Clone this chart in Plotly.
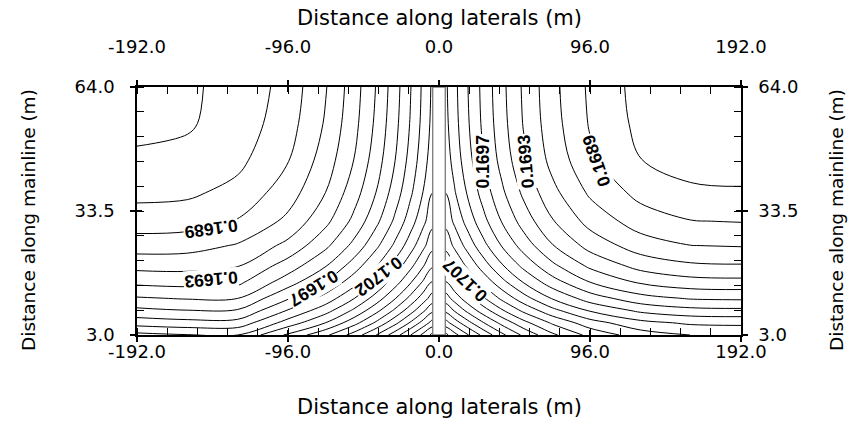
import plotly.graph_objects as go

# ---------------- data ----------------
# distance along laterals (m) and along mainline (m) of the grid nodes
x_nodes = [-192, -160, -128, -96, -72, -54, -40, -28, -18, -10, -4,
           4, 10, 18, 28, 40, 54, 72, 96, 128, 160, 192]
y_nodes = [3, 6, 9, 12, 16, 20, 25, 31, 38, 46, 55, 64]

# pressure head (m) at the grid nodes, one list per mainline position
head_y03 = [0.170095, 0.170058, 0.17005, 0.170379, 0.170619, 0.170865, 0.171099, 0.171331, 0.17155, 0.171742, 0.171895,
            0.171895, 0.17175, 0.171567, 0.171360, 0.171138, 0.170916, 0.170683, 0.170455, 0.170274, 0.170199, 0.170185]
head_y06 = [0.169834, 0.169801, 0.169804, 0.170115, 0.170352, 0.170593, 0.170824, 0.171054, 0.17127, 0.171459, 0.17161,
            0.17161, 0.171474, 0.171304, 0.171111, 0.170904, 0.170695, 0.170478, 0.170265, 0.170095, 0.170025, 0.170013]
head_y09 = [0.169639, 0.169606, 0.169615, 0.169912, 0.170143, 0.170379, 0.170604, 0.170829, 0.171039, 0.171223, 0.17137,
            0.17137, 0.171235, 0.171067, 0.170875, 0.17067, 0.170464, 0.170248, 0.170037, 0.169869, 0.1698, 0.169788]
head_y12 = [0.169467, 0.16944, 0.16945, 0.169737, 0.169963, 0.170197, 0.170419, 0.170641, 0.170848, 0.17103, 0.171175,
            0.171175, 0.171039, 0.170869, 0.170674, 0.170467, 0.17026, 0.170041, 0.169828, 0.169659, 0.169588, 0.169576]
head_y16 = [0.169263, 0.169245, 0.169263, 0.169531, 0.169758, 0.16999, 0.170212, 0.170433, 0.170638, 0.17082, 0.170965,
            0.170965, 0.170827, 0.170655, 0.170458, 0.170248, 0.170038, 0.169816, 0.1696, 0.169429, 0.169357, 0.169345]
head_y20 = [0.169104, 0.169102, 0.169143, 0.169369, 0.169593, 0.169822, 0.170041, 0.170259, 0.170463, 0.170641, 0.170785,
            0.170785, 0.170647, 0.170475, 0.170278, 0.170068, 0.169858, 0.169636, 0.16942, 0.169249, 0.169177, 0.169165]
head_y25 = [0.168927, 0.168939, 0.169014, 0.169191, 0.169416, 0.169644, 0.169863, 0.17008, 0.170284, 0.170463, 0.170605,
            0.170605, 0.170467, 0.170296, 0.1701, 0.16989, 0.16968, 0.169459, 0.169245, 0.169074, 0.169002, 0.16899]
head_y31 = [0.168771, 0.168784, 0.168858, 0.169036, 0.169261, 0.16949, 0.16971, 0.169929, 0.170133, 0.170311, 0.170455,
            0.170455, 0.170317, 0.170146, 0.169951, 0.169741, 0.169531, 0.169312, 0.169096, 0.168927, 0.168855, 0.168843]
head_y38 = [0.16866, 0.168673, 0.168747, 0.168927, 0.169152, 0.169383, 0.169602, 0.169821, 0.170026, 0.170206, 0.17035,
            0.17035, 0.170211, 0.170038, 0.16984, 0.169629, 0.169416, 0.169194, 0.168976, 0.168804, 0.168732, 0.16872]
head_y46 = [0.168573, 0.168586, 0.168661, 0.168843, 0.169071, 0.169303, 0.169525, 0.169747, 0.169956, 0.170137, 0.170283,
            0.170283, 0.17014, 0.169963, 0.169762, 0.169546, 0.169329, 0.169102, 0.16888, 0.168703, 0.16863, 0.168618]
head_y55 = [0.168513, 0.168535, 0.16861, 0.168786, 0.169017, 0.169254, 0.169479, 0.169704, 0.169914, 0.170098, 0.170245,
            0.170245, 0.170103, 0.169924, 0.169722, 0.169506, 0.169287, 0.16906, 0.168837, 0.16866, 0.168586, 0.168573]
head_y64 = [0.168483, 0.168532, 0.168588, 0.168759, 0.168991, 0.16923, 0.169456, 0.169683, 0.169896, 0.170082, 0.17023,
            0.17023, 0.170088, 0.169909, 0.169707, 0.169491, 0.169272, 0.169045, 0.168822, 0.168645, 0.168571, 0.168558]

head_rows = [head_y03, head_y06, head_y09, head_y12, head_y16, head_y20,
             head_y25, head_y31, head_y38, head_y46, head_y55, head_y64]

level_start = 0.1684
level_end = 0.1723
level_step = 0.00015

x_tick_vals = [-192, -96, 0, 96, 192]
x_tick_text = ["-192.0", "-96.0", "0.0", "96.0", "192.0"]
y_tick_vals = [3, 33.5, 64]
y_tick_text = ["3.0", "33.5", "64.0"]

contour_label_text = ["0.1689", "0.1693", "0.1697", "0.1702", "0.1707", "0.1697", "0.1693", "0.1689"]

mainline_half_width = 4
x_range = [-192, 192]
y_range = [3, 64]

# ---------------- figure ----------------
fig = go.Figure()

fig.add_trace(go.Contour(
    x=x_nodes, y=y_nodes, z=head_rows,
    contours=dict(start=level_start, end=level_end, size=level_step,
                  coloring="lines", showlabels=False),
    line=dict(width=1, smoothing=1.0),
    colorscale=[[0, "black"], [1, "black"]],
    showscale=False, hoverinfo="skip",
))

# dummy traces so the secondary axes render
for xa, ya in [("x2", "y2"), ("x3", "y3"), ("x4", "y4")]:
    fig.add_trace(go.Scatter(x=[None], y=[None], xaxis=xa, yaxis=ya,
                             showlegend=False, hoverinfo="skip"))

tick_font = dict(family="DejaVu Sans", size=18, color="black")
base = dict(showgrid=False, zeroline=False, showline=True, linecolor="black",
            linewidth=1.5, ticks="outside", ticklen=5, tickwidth=1.5,
            tickcolor="black", tickfont=tick_font, tickmode="array")

x_minor = dict(ticks="inside", ticklen=7, tickwidth=1.2, tickcolor="black",
               tickmode="linear", tick0=-192, dtick=19.2, showgrid=False)
y_minor = dict(ticks="inside", ticklen=7, tickwidth=1.2, tickcolor="black",
               tickmode="linear", tick0=3, dtick=6.1, showgrid=False)

inner = dict(showgrid=False, zeroline=False, showline=False, ticks="inside",
             ticklen=5, tickwidth=1.5, tickcolor="black", showticklabels=False,
             tickmode="array")

fig.update_layout(
    width=863, height=422,
    margin=dict(l=137, r=122, t=87, b=87, pad=0),
    paper_bgcolor="white", plot_bgcolor="white",
    showlegend=False,
    xaxis=dict(**base, range=x_range, tickvals=x_tick_vals, ticktext=x_tick_text,
               minor=x_minor, side="bottom", anchor="y", ticklabelstandoff=-5),
    xaxis2=dict(**base, range=x_range, tickvals=x_tick_vals, ticktext=x_tick_text,
                minor=x_minor, side="top", overlaying="x", anchor="y",
                ticklabelstandoff=20),
    yaxis=dict(**base, range=y_range, tickvals=y_tick_vals, ticktext=y_tick_text,
               minor=y_minor, side="left", anchor="x", ticklabelstandoff=12),
    yaxis2=dict(**base, range=y_range, tickvals=y_tick_vals, ticktext=y_tick_text,
                minor=y_minor, side="right", overlaying="y", anchor="x",
                ticklabelstandoff=7),
    xaxis3=dict(**inner, range=x_range, tickvals=x_tick_vals, side="bottom",
                overlaying="x", anchor="y"),
    xaxis4=dict(**inner, range=x_range, tickvals=x_tick_vals, side="top",
                overlaying="x", anchor="y"),
    yaxis3=dict(**inner, range=y_range, tickvals=y_tick_vals, side="left",
                overlaying="y", anchor="x"),
    yaxis4=dict(**inner, range=y_range, tickvals=y_tick_vals, side="right",
                overlaying="y", anchor="x"),
)

# mainline strip
fig.add_shape(type="rect", xref="x", yref="y",
              x0=-mainline_half_width, x1=mainline_half_width,
              y0=y_range[0], y1=y_range[1],
              fillcolor="white", line=dict(color="#7a7a7a", width=1.3),
              layer="above")

# contour labels
label_pos = [(-145, 29.2, 172), (-145, 16.7, 175), (-80, 14.5, 149),
             (-38.6, 17.3, 143), (16.5, 16.5, -136), (27.8, 45.6, -90),
             (55, 45.6, -95), (100, 46, -109)]
for txt, (lx, ly, ang) in zip(contour_label_text, label_pos):
    fig.add_annotation(x=lx, y=ly, xref="x", yref="y", text=txt,
                       showarrow=False, textangle=ang, bgcolor="white",
                       borderpad=0,
                       font=dict(family="Liberation Sans", size=17.5,
                                 color="black", weight="bold"))

# axis titles
h_title = dict(family="DejaVu Sans", size=21, color="black")
v_title = dict(family="DejaVu Sans", size=18.5, color="black")
fig.add_annotation(text="Distance along laterals (m)", xref="paper", yref="paper",
                   x=0.5, y=0, yanchor="middle", yshift=-72, showarrow=False,
                   font=h_title)
fig.add_annotation(text="Distance along laterals (m)", xref="paper", yref="paper",
                   x=0.5, y=1, yanchor="middle", yshift=69, showarrow=False,
                   font=h_title)
fig.add_annotation(text="Distance along mainline (m)", xref="paper", yref="paper",
                   x=0, y=0.5, xanchor="center", yanchor="middle", xshift=-109,
                   yshift=-9, textangle=-90, showarrow=False, font=v_title)
fig.add_annotation(text="Distance along mainline (m)", xref="paper", yref="paper",
                   x=1, y=0.5, xanchor="center", yanchor="middle", xshift=95,
                   yshift=-9, textangle=-90, showarrow=False, font=v_title)

fig.write_html("out.html", config={"displayModeBar": False},
               post_script="document.body.style.margin='0px';")
